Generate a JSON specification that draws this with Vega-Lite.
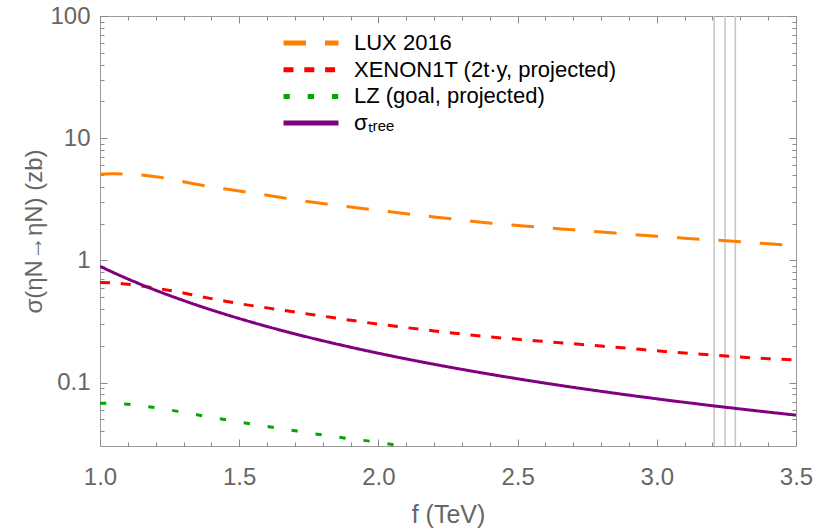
{
  "$schema": "https://vega.github.io/schema/vega-lite/v6.json",
  "width": 696,
  "height": 430,
  "autosize": {"type": "none"},
  "padding": {"left": 100, "top": 16, "right": 21, "bottom": 86},
  "config": {
    "font": "Liberation Sans",
    "view": {"stroke": "#9a9a9a", "strokeWidth": 1},
    "axis": {
      "grid": false,
      "domain": false,
      "labelFont": "Liberation Sans",
      "labelColor": "#666666",
      "labelFontSize": 24,
      "titleFont": "Liberation Sans",
      "titleColor": "#666666",
      "titleFontSize": 25,
      "titleFontWeight": "normal",
      "tickColor": "#8a8a8a",
      "tickWidth": 1,
      "labelFlush": false,
      "labelOverlap": false
    },
    "legend": {
      "orient": "none",
      "legendX": 181,
      "legendY": 16,
      "padding": 0,
      "clipHeight": 22,
      "rowPadding": 4.7,
      "symbolType": "stroke",
      "symbolSize": 3025,
      "symbolStrokeWidth": 5,
      "labelFont": "Liberation Sans",
      "labelFontSize": 22,
      "labelColor": "#000000",
      "labelOffset": 13,
      "labelLimit": 0
    }
  },
  "datasets": {
    "vlines": [{"f": 3.206}, {"f": 3.245}, {"f": 3.282}],
    "curves": [
      {"series": "LUX 2016", "f": 1.0, "s": 5.08},
      {"series": "LUX 2016", "f": 1.05, "s": 5.12},
      {"series": "LUX 2016", "f": 1.1, "s": 5.08},
      {"series": "LUX 2016", "f": 1.15, "s": 4.99},
      {"series": "LUX 2016", "f": 1.2, "s": 4.84},
      {"series": "LUX 2016", "f": 1.25, "s": 4.65},
      {"series": "LUX 2016", "f": 1.3, "s": 4.4},
      {"series": "LUX 2016", "f": 1.4, "s": 4.0},
      {"series": "LUX 2016", "f": 1.5, "s": 3.7},
      {"series": "LUX 2016", "f": 1.6, "s": 3.42},
      {"series": "LUX 2016", "f": 1.7, "s": 3.14},
      {"series": "LUX 2016", "f": 1.8, "s": 2.92},
      {"series": "LUX 2016", "f": 1.9, "s": 2.74},
      {"series": "LUX 2016", "f": 2.0, "s": 2.57},
      {"series": "LUX 2016", "f": 2.1, "s": 2.41},
      {"series": "LUX 2016", "f": 2.2, "s": 2.27},
      {"series": "LUX 2016", "f": 2.3, "s": 2.14},
      {"series": "LUX 2016", "f": 2.4, "s": 2.02},
      {"series": "LUX 2016", "f": 2.5, "s": 1.93},
      {"series": "LUX 2016", "f": 2.6, "s": 1.85},
      {"series": "LUX 2016", "f": 2.7, "s": 1.78},
      {"series": "LUX 2016", "f": 2.8, "s": 1.71},
      {"series": "LUX 2016", "f": 2.9, "s": 1.64},
      {"series": "LUX 2016", "f": 3.0, "s": 1.575},
      {"series": "LUX 2016", "f": 3.1, "s": 1.52},
      {"series": "LUX 2016", "f": 3.2, "s": 1.47},
      {"series": "LUX 2016", "f": 3.3, "s": 1.42},
      {"series": "LUX 2016", "f": 3.4, "s": 1.37},
      {"series": "LUX 2016", "f": 3.5, "s": 1.32},
      {"series": "XENON1T (2t·y, projected)", "f": 1.0, "s": 0.66},
      {"series": "XENON1T (2t·y, projected)", "f": 1.05, "s": 0.655},
      {"series": "XENON1T (2t·y, projected)", "f": 1.1, "s": 0.638},
      {"series": "XENON1T (2t·y, projected)", "f": 1.15, "s": 0.618},
      {"series": "XENON1T (2t·y, projected)", "f": 1.2, "s": 0.594},
      {"series": "XENON1T (2t·y, projected)", "f": 1.25, "s": 0.568},
      {"series": "XENON1T (2t·y, projected)", "f": 1.3, "s": 0.541},
      {"series": "XENON1T (2t·y, projected)", "f": 1.35, "s": 0.513},
      {"series": "XENON1T (2t·y, projected)", "f": 1.4, "s": 0.487},
      {"series": "XENON1T (2t·y, projected)", "f": 1.45, "s": 0.464},
      {"series": "XENON1T (2t·y, projected)", "f": 1.5, "s": 0.443},
      {"series": "XENON1T (2t·y, projected)", "f": 1.6, "s": 0.409},
      {"series": "XENON1T (2t·y, projected)", "f": 1.7, "s": 0.378},
      {"series": "XENON1T (2t·y, projected)", "f": 1.8, "s": 0.35},
      {"series": "XENON1T (2t·y, projected)", "f": 1.9, "s": 0.324},
      {"series": "XENON1T (2t·y, projected)", "f": 2.0, "s": 0.301},
      {"series": "XENON1T (2t·y, projected)", "f": 2.1, "s": 0.282},
      {"series": "XENON1T (2t·y, projected)", "f": 2.2, "s": 0.265},
      {"series": "XENON1T (2t·y, projected)", "f": 2.3, "s": 0.25},
      {"series": "XENON1T (2t·y, projected)", "f": 2.4, "s": 0.237},
      {"series": "XENON1T (2t·y, projected)", "f": 2.5, "s": 0.226},
      {"series": "XENON1T (2t·y, projected)", "f": 2.6, "s": 0.217},
      {"series": "XENON1T (2t·y, projected)", "f": 2.7, "s": 0.208},
      {"series": "XENON1T (2t·y, projected)", "f": 2.8, "s": 0.199},
      {"series": "XENON1T (2t·y, projected)", "f": 2.9, "s": 0.191},
      {"series": "XENON1T (2t·y, projected)", "f": 3.0, "s": 0.182},
      {"series": "XENON1T (2t·y, projected)", "f": 3.1, "s": 0.175},
      {"series": "XENON1T (2t·y, projected)", "f": 3.2, "s": 0.168},
      {"series": "XENON1T (2t·y, projected)", "f": 3.3, "s": 0.162},
      {"series": "XENON1T (2t·y, projected)", "f": 3.4, "s": 0.157},
      {"series": "XENON1T (2t·y, projected)", "f": 3.5, "s": 0.153},
      {"series": "LZ (goal, projected)", "f": 1.0, "s": 0.0678},
      {"series": "LZ (goal, projected)", "f": 1.05, "s": 0.0674},
      {"series": "LZ (goal, projected)", "f": 1.1, "s": 0.0664},
      {"series": "LZ (goal, projected)", "f": 1.2, "s": 0.0623},
      {"series": "LZ (goal, projected)", "f": 1.3, "s": 0.0571},
      {"series": "LZ (goal, projected)", "f": 1.4, "s": 0.052},
      {"series": "LZ (goal, projected)", "f": 1.5, "s": 0.0476},
      {"series": "LZ (goal, projected)", "f": 1.6, "s": 0.0439},
      {"series": "LZ (goal, projected)", "f": 1.7, "s": 0.0404},
      {"series": "LZ (goal, projected)", "f": 1.8, "s": 0.0373},
      {"series": "LZ (goal, projected)", "f": 1.9, "s": 0.0347},
      {"series": "LZ (goal, projected)", "f": 2.0, "s": 0.0325},
      {"series": "LZ (goal, projected)", "f": 2.1, "s": 0.0298},
      {"series": "σₜᵣₑₑ", "f": 1.0, "s": 0.895},
      {"series": "σₜᵣₑₑ", "f": 1.05, "s": 0.792},
      {"series": "σₜᵣₑₑ", "f": 1.1, "s": 0.7055},
      {"series": "σₜᵣₑₑ", "f": 1.2, "s": 0.5698},
      {"series": "σₜᵣₑₑ", "f": 1.3, "s": 0.4695},
      {"series": "σₜᵣₑₑ", "f": 1.4, "s": 0.3935},
      {"series": "σₜᵣₑₑ", "f": 1.5, "s": 0.3346},
      {"series": "σₜᵣₑₑ", "f": 1.6, "s": 0.288},
      {"series": "σₜᵣₑₑ", "f": 1.7, "s": 0.2506},
      {"series": "σₜᵣₑₑ", "f": 1.8, "s": 0.2201},
      {"series": "σₜᵣₑₑ", "f": 1.9, "s": 0.195},
      {"series": "σₜᵣₑₑ", "f": 2.0, "s": 0.174},
      {"series": "σₜᵣₑₑ", "f": 2.1, "s": 0.1563},
      {"series": "σₜᵣₑₑ", "f": 2.2, "s": 0.1413},
      {"series": "σₜᵣₑₑ", "f": 2.3, "s": 0.1284},
      {"series": "σₜᵣₑₑ", "f": 2.4, "s": 0.1172},
      {"series": "σₜᵣₑₑ", "f": 2.5, "s": 0.1075},
      {"series": "σₜᵣₑₑ", "f": 2.6, "s": 0.099},
      {"series": "σₜᵣₑₑ", "f": 2.7, "s": 0.0915},
      {"series": "σₜᵣₑₑ", "f": 2.8, "s": 0.0849},
      {"series": "σₜᵣₑₑ", "f": 2.9, "s": 0.079},
      {"series": "σₜᵣₑₑ", "f": 3.0, "s": 0.0737},
      {"series": "σₜᵣₑₑ", "f": 3.1, "s": 0.069},
      {"series": "σₜᵣₑₑ", "f": 3.2, "s": 0.0647},
      {"series": "σₜᵣₑₑ", "f": 3.3, "s": 0.0609},
      {"series": "σₜᵣₑₑ", "f": 3.4, "s": 0.0574},
      {"series": "σₜᵣₑₑ", "f": 3.5, "s": 0.0542}
    ]
  },
  "layer": [
    {
      "data": {"name": "vlines"},
      "mark": {"type": "rule", "color": "#c8c8c8", "strokeWidth": 1.6},
      "encoding": {
        "x": {
          "field": "f", "type": "quantitative",
          "scale": {"domain": [1, 3.5], "nice": false, "zero": false},
          "axis": {"orient": "bottom", "values": [1, 1.5, 2, 2.5, 3, 3.5], "tickSize": -7, "format": ".1f", "title": "f (TeV)", "labelPadding": 26, "titlePadding": 13}
        }
      }
    },
    {
      "data": {"name": "curves"},
      "transform": [{"filter": "datum.series === 'LUX 2016'"}],
      "mark": {"type": "line", "strokeWidth": 3, "interpolate": "monotone", "clip": true},
      "encoding": {
        "x": {"field": "f", "type": "quantitative",
          "axis": {"orient": "bottom", "values": [1.1, 1.2, 1.3, 1.4, 1.6, 1.7, 1.8, 1.9, 2.1, 2.2, 2.3, 2.4, 2.6, 2.7, 2.8, 2.9, 3.1, 3.2, 3.3, 3.4], "tickSize": -4, "labels": false, "title": null}},
        "y": {"field": "s", "type": "quantitative",
          "scale": {"type": "log", "domain": [0.0303, 100], "nice": false},
          "axis": {"orient": "left", "values": [0.1, 1, 10, 100], "tickSize": -7, "format": "~g", "title": "σ(ηN→ηN) (zb)", "titleFontSize": 24, "labelPadding": 17, "titlePadding": 3}},
        "color": {"field": "series", "type": "nominal", "title": null,
          "scale": {"domain": ["LUX 2016", "XENON1T (2t·y, projected)", "LZ (goal, projected)", "σₜᵣₑₑ"], "range": ["#ff8000", "#ff0000", "#00a800", "#800080"]}},
        "strokeDash": {"field": "series", "type": "nominal", "title": null,
          "scale": {"domain": ["LUX 2016", "XENON1T (2t·y, projected)", "LZ (goal, projected)", "σₜᵣₑₑ"], "range": [[22.5, 19], [10, 10.8], [6.3, 17.9], [1, 0]]}}
      }
    },
    {
      "data": {"name": "curves"},
      "transform": [{"filter": "datum.series === 'XENON1T (2t·y, projected)'"}],
      "mark": {"type": "line", "strokeWidth": 3, "interpolate": "monotone", "clip": true},
      "encoding": {
        "x": {"field": "f", "type": "quantitative",
          "axis": {"orient": "top", "values": [1, 1.5, 2, 2.5, 3, 3.5], "tickSize": -7, "labels": false, "title": null}},
        "y": {"field": "s", "type": "quantitative",
          "axis": {"orient": "left", "values": [0.04, 0.05, 0.06, 0.07, 0.08, 0.09, 0.2, 0.3, 0.4, 0.5, 0.6, 0.7, 0.8, 0.9, 2, 3, 4, 5, 6, 7, 8, 9, 20, 30, 40, 50, 60, 70, 80, 90], "tickSize": -4, "labels": false, "title": null}},
        "color": {"field": "series", "type": "nominal", "title": null},
        "strokeDash": {"field": "series", "type": "nominal", "title": null}
      }
    },
    {
      "data": {"name": "curves"},
      "transform": [{"filter": "datum.series === 'LZ (goal, projected)'"}],
      "mark": {"type": "line", "strokeWidth": 3, "interpolate": "monotone", "clip": true},
      "encoding": {
        "x": {"field": "f", "type": "quantitative",
          "axis": {"orient": "top", "values": [1.1, 1.2, 1.3, 1.4, 1.6, 1.7, 1.8, 1.9, 2.1, 2.2, 2.3, 2.4, 2.6, 2.7, 2.8, 2.9, 3.1, 3.2, 3.3, 3.4], "tickSize": -4, "labels": false, "title": null}},
        "y": {"field": "s", "type": "quantitative",
          "axis": {"orient": "right", "values": [0.1, 1, 10, 100], "tickSize": -7, "labels": false, "title": null}},
        "color": {"field": "series", "type": "nominal", "title": null},
        "strokeDash": {"field": "series", "type": "nominal", "title": null}
      }
    },
    {
      "data": {"name": "curves"},
      "transform": [{"filter": "datum.series === 'σₜᵣₑₑ'"}],
      "mark": {"type": "line", "strokeWidth": 3, "interpolate": "monotone", "clip": true},
      "encoding": {
        "x": {"field": "f", "type": "quantitative", "axis": null},
        "y": {"field": "s", "type": "quantitative",
          "axis": {"orient": "right", "values": [0.04, 0.05, 0.06, 0.07, 0.08, 0.09, 0.2, 0.3, 0.4, 0.5, 0.6, 0.7, 0.8, 0.9, 2, 3, 4, 5, 6, 7, 8, 9, 20, 30, 40, 50, 60, 70, 80, 90], "tickSize": -4, "labels": false, "title": null}},
        "color": {"field": "series", "type": "nominal", "title": null},
        "strokeDash": {"field": "series", "type": "nominal", "title": null}
      }
    }
  ],
  "resolve": {"axis": {"x": "independent", "y": "independent"}}
}
